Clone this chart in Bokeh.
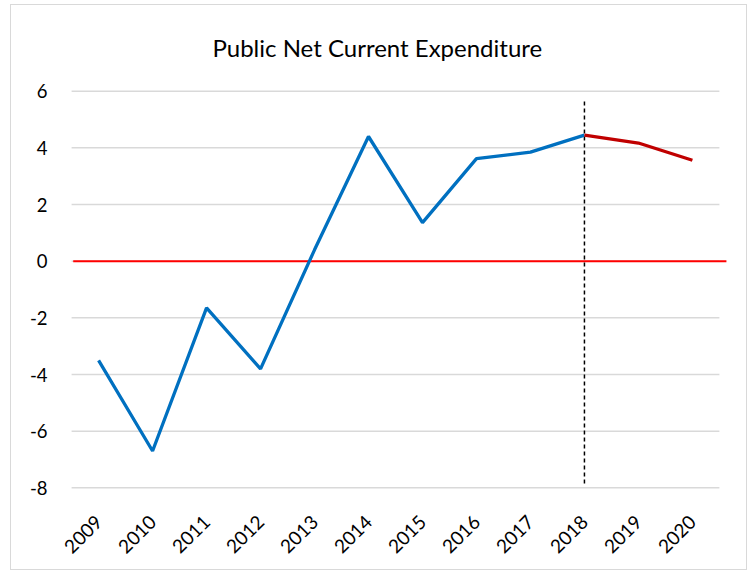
from math import pi
from bokeh.plotting import figure
from bokeh.models import FactorRange, Range1d, FixedTicker
from bokeh.embed import file_html
from bokeh.resources import INLINE

# ---- data ----
years = ["2009", "2010", "2011", "2012", "2013", "2014", "2015", "2016",
         "2017", "2018", "2019", "2020"]
actual_years = ["2009", "2010", "2011", "2012", "2013", "2014", "2015",
                "2016", "2017", "2018"]
actual_values = [-3.5, -6.7, -1.65, -3.8, 0.4, 4.4, 1.36, 3.62, 3.85, 4.45]
forecast_years = ["2018", "2019", "2020"]
forecast_values = [4.45, 4.17, 3.56]
y_ticks = [-8, -6, -4, -2, 0, 2, 4, 6]
y_tick_labels = ["-8", "-6", "-4", "-2", "0", "2", "4", "6"]
divider_year = "2018"
divider_low = -7.85
divider_high = 5.7
zero_level = 0

FONT = "Lato"

p = figure(
    width=737, height=566,
    x_range=FactorRange(*years, range_padding=0.15, range_padding_units="absolute"),
    y_range=Range1d(-8.2, 6.2),
    output_backend="svg", toolbar_location=None,
    min_border_left=52, min_border_right=21,
    min_border_top=80, min_border_bottom=78,
    styles={"margin-left": "10px", "margin-top": "4px",
            "border": "1.5px solid #d9d9d9", "box-sizing": "border-box"},
)
p.title.text = "Public Net Current Expenditure"
p.title.text_font = FONT
p.title.text_font_size = "24px"
p.title.text_font_style = "normal"
p.title.text_color = "#000000"
p.title.align = "left"
p.title.offset = 149
p.title.standoff = 47

p.outline_line_color = None
p.xgrid.grid_line_color = None
p.ygrid.grid_line_color = None
p.background_fill_color = "white"
p.border_fill_color = "white"

# horizontal gridlines (span the category band only)
n = len(years)
p.segment(x0=[0] * len(y_ticks), x1=[n] * len(y_ticks), y0=y_ticks, y1=y_ticks,
          line_color="#d9d9d9", line_width=1.5)

# zero line
p.segment(x0=[0.03], x1=[n + 0.13], y0=[zero_level], y1=[zero_level],
          line_color="#ff0000", line_width=2)

# dashed divider
p.segment(x0=[divider_year], x1=[divider_year], y0=[divider_low], y1=[divider_high],
          line_color="#000000", line_width=1.5, line_dash="4 3")

# series
p.line(actual_years, actual_values, line_color="#0070c0", line_width=3.3)
p.line(forecast_years, forecast_values, line_color="#c00000", line_width=3.3)

# axes
p.yaxis.ticker = FixedTicker(ticks=y_ticks)
p.yaxis.major_label_overrides = dict(zip(y_ticks, y_tick_labels))
for ax in (p.xaxis[0], p.yaxis[0]):
    ax.axis_line_color = None
    ax.major_tick_line_color = None
    ax.minor_tick_line_color = None
    ax.major_tick_out = 0
    ax.major_tick_in = 0
    ax.major_label_text_font = FONT
    ax.major_label_text_color = "#000000"
p.yaxis.major_label_text_font_size = "18.5px"
p.xaxis.major_label_text_font_size = "19px"
p.yaxis.major_label_standoff = 16
p.xaxis.major_label_orientation = pi / 4
p.xaxis.major_label_standoff = 25

open("out.html", "w").write(file_html(p, INLINE))
